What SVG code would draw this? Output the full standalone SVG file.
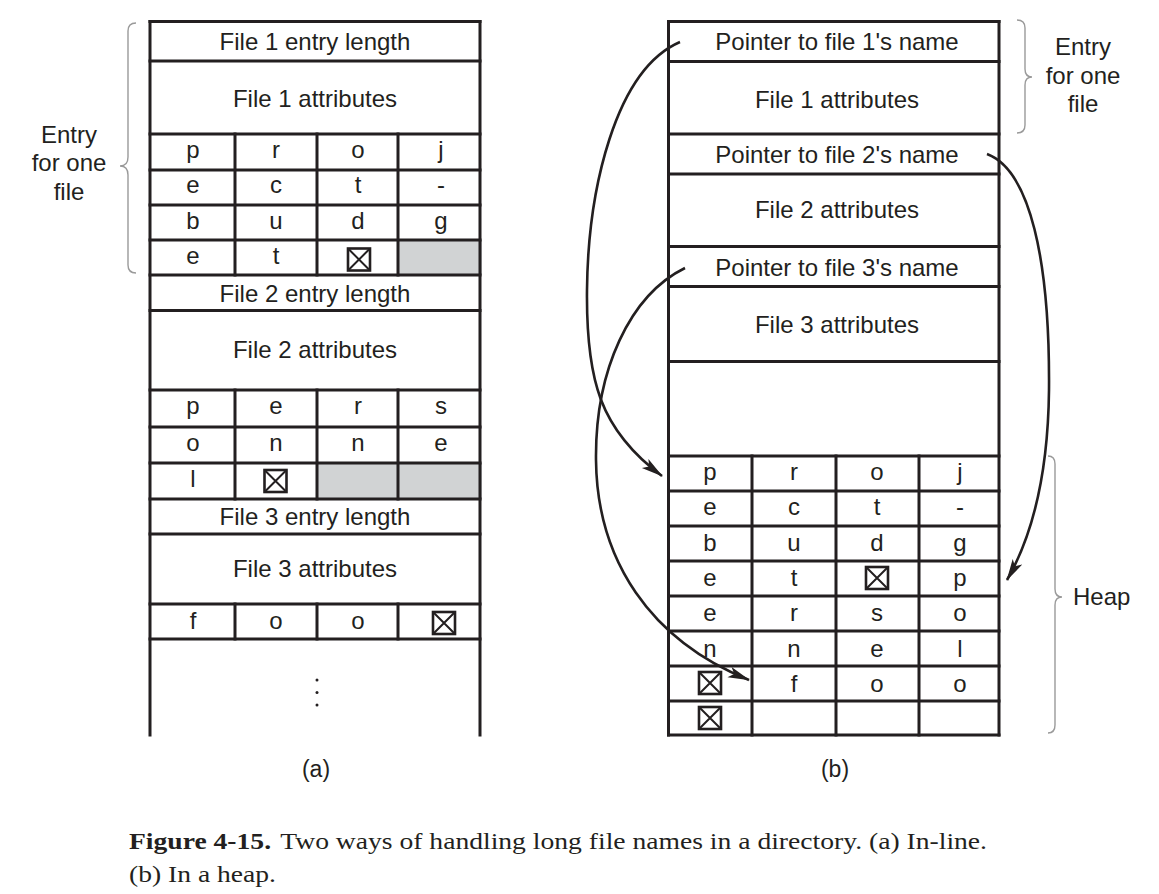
<svg xmlns="http://www.w3.org/2000/svg" width="1159" height="894" viewBox="0 0 1159 894">
<style>
.ln{stroke:#231f20;stroke-width:3;fill:none;stroke-linecap:square}
.t{font-family:"Liberation Sans",Arial,sans-serif;font-size:24px;fill:#231f20;text-anchor:middle}
.br{stroke:#9a9a9a;stroke-width:1.4;fill:none}
.gray{fill:#d1d3d4}
.arr{stroke:#231f20;stroke-width:2.6;fill:none;marker-end:url(#ah)}
.cap{font-family:"Liberation Serif","Times New Roman",serif;font-size:24px;fill:#231f20}
</style>
<defs>
<marker id="ah" markerUnits="userSpaceOnUse" markerWidth="24" markerHeight="14" refX="21" refY="6" orient="auto">
<path d="M0,0.5 L22,6 L0,11.5 L5,6 z" fill="#231f20"/>
</marker>
<g id="xbox">
<rect x="-11" y="-11" width="22" height="22" fill="#fff" stroke="#231f20" stroke-width="2.6"/>
<path d="M-10,-10 L10,10 M10,-10 L-10,10" stroke="#231f20" stroke-width="2"/>
</g>
</defs>

<!-- (a) In-line -->
<g id="table-a">
<rect class="gray" x="398" y="240" width="84" height="35"/>
<rect class="gray" x="317" y="463" width="165" height="36"/>
<path class="ln" d="M150,21.5 V735 M480,21.5 V735"/>
<path class="ln" d="M150,21.5 H480 M150,61 H480 M150,134 H480 M150,170 H480 M150,205 H480 M150,240 H480 M150,275 H480 M150,310.5 H480 M150,390 H480 M150,427 H480 M150,463 H480 M150,499 H480 M150,534 H480 M150,604 H480 M150,639 H480"/>
<path class="ln" d="M235,134 V275 M317,134 V275 M398,134 V275 M235,390 V499 M317,390 V499 M398,390 V499 M235,604 V639 M317,604 V639 M398,604 V639"/>
</g>
<g id="a-file1-len"><text class="t" x="315" y="49.5">File 1 entry length</text></g>
<g id="a-file1-attr"><text class="t" x="315" y="107">File 1 attributes</text></g>
<g id="a-file1-name">
<text class="t" x="193" y="158">p</text><text class="t" x="276" y="158">r</text><text class="t" x="358" y="158">o</text><text class="t" x="441" y="158">j</text>
<text class="t" x="193" y="193">e</text><text class="t" x="276" y="193">c</text><text class="t" x="358" y="193">t</text><text class="t" x="441" y="193">-</text>
<text class="t" x="193" y="229">b</text><text class="t" x="276" y="229">u</text><text class="t" x="358" y="229">d</text><text class="t" x="441" y="229">g</text>
<text class="t" x="193" y="264">e</text><text class="t" x="276" y="264">t</text><use href="#xbox" x="359" y="259.5"/>
</g>
<g id="a-file2-len"><text class="t" x="315" y="302">File 2 entry length</text></g>
<g id="a-file2-attr"><text class="t" x="315" y="358">File 2 attributes</text></g>
<g id="a-file2-name">
<text class="t" x="193" y="414">p</text><text class="t" x="276" y="414">e</text><text class="t" x="358" y="414">r</text><text class="t" x="441" y="414">s</text>
<text class="t" x="193" y="451">o</text><text class="t" x="276" y="451">n</text><text class="t" x="358" y="451">n</text><text class="t" x="441" y="451">e</text>
<text class="t" x="193" y="487">l</text><use href="#xbox" x="275.5" y="481"/>
</g>
<g id="a-file3-len"><text class="t" x="315" y="525">File 3 entry length</text></g>
<g id="a-file3-attr"><text class="t" x="315" y="577">File 3 attributes</text></g>
<g id="a-file3-name">
<text class="t" x="193" y="629">f</text><text class="t" x="276" y="629">o</text><text class="t" x="358" y="629">o</text><use href="#xbox" x="444" y="623"/>
</g>
<g id="a-dots" fill="#231f20">
<circle cx="317" cy="680" r="1.5"/><circle cx="317" cy="692.5" r="1.5"/><circle cx="317" cy="705" r="1.5"/>
</g>
<g id="a-brace">
<path class="br" d="M136,23 Q128,23 128,31 L128,157 Q128,166 120,166 Q128,166 128,175 L128,265 Q128,273 136,273"/>
<text class="t" x="69" y="143">Entry</text>
<text class="t" x="69" y="171">for one</text>
<text class="t" x="69" y="200">file</text>
</g>
<g id="a-label"><text class="t" x="316" y="777" style="font-size:23px">(a)</text></g>

<!-- (b) In a heap -->
<g id="table-b">
<path class="ln" d="M668.5,21.5 V735 M999,21.5 V735"/>
<path class="ln" d="M668.5,21.5 H999 M668.5,61.5 H999 M668.5,134 H999 M668.5,174 H999 M668.5,246.5 H999 M668.5,286.5 H999 M668.5,361.5 H999 M668.5,456 H999 M668.5,491 H999 M668.5,526 H999 M668.5,561 H999 M668.5,596 H999 M668.5,631 H999 M668.5,666 H999 M668.5,701 H999 M668.5,735 H999"/>
<path class="ln" d="M752,456 V735 M836,456 V735 M919,456 V735"/>
</g>
<g id="b-ptr1"><text class="t" x="837" y="49.5">Pointer to file 1's name</text></g>
<g id="b-attr1"><text class="t" x="837" y="107.5">File 1 attributes</text></g>
<g id="b-ptr2"><text class="t" x="837" y="163">Pointer to file 2's name</text></g>
<g id="b-attr2"><text class="t" x="837" y="218">File 2 attributes</text></g>
<g id="b-ptr3"><text class="t" x="837" y="276">Pointer to file 3's name</text></g>
<g id="b-attr3"><text class="t" x="837" y="333">File 3 attributes</text></g>
<g id="b-heap">
<text class="t" x="710" y="480">p</text><text class="t" x="794" y="480">r</text><text class="t" x="877" y="480">o</text><text class="t" x="960" y="480">j</text>
<text class="t" x="710" y="515">e</text><text class="t" x="794" y="515">c</text><text class="t" x="877" y="515">t</text><text class="t" x="960" y="515">-</text>
<text class="t" x="710" y="551">b</text><text class="t" x="794" y="551">u</text><text class="t" x="877" y="551">d</text><text class="t" x="960" y="551">g</text>
<text class="t" x="710" y="586">e</text><text class="t" x="794" y="586">t</text><use href="#xbox" x="877" y="578"/><text class="t" x="960" y="586">p</text>
<text class="t" x="710" y="621">e</text><text class="t" x="794" y="621">r</text><text class="t" x="877" y="621">s</text><text class="t" x="960" y="621">o</text>
<text class="t" x="710" y="657">n</text><text class="t" x="794" y="657">n</text><text class="t" x="877" y="657">e</text><text class="t" x="960" y="657">l</text>
<use href="#xbox" x="710" y="683"/><text class="t" x="794" y="692">f</text><text class="t" x="877" y="692">o</text><text class="t" x="960" y="692">o</text>
<use href="#xbox" x="710" y="718"/>
</g>
<g id="b-entry-brace">
<path class="br" d="M1017,20 Q1025,20 1025,28 L1025,69 Q1025,77 1032,77 Q1025,77 1025,85 L1025,125 Q1025,133 1017,133"/>
<text class="t" x="1083" y="55">Entry</text>
<text class="t" x="1083" y="83.5">for one</text>
<text class="t" x="1083" y="112">file</text>
</g>
<g id="b-heap-brace">
<path class="br" d="M1048,456 Q1055,456 1055,464 L1055,589 Q1055,597 1062,597 Q1055,597 1055,605 L1055,725 Q1055,733 1048,733"/>
<text class="t" x="1073" y="605" style="text-anchor:start">Heap</text>
</g>
<g id="b-label"><text class="t" x="835" y="777" style="font-size:23px">(b)</text></g>

<g id="connectors">
<path class="arr" d="M680,42 C615,70 588,190 587,290 C586,380 600,430 662,476"/>
<path class="arr" d="M987,154 C1030,170 1050,260 1049,390 C1048,480 1030,540 1007,580"/>
<path class="arr" d="M685,268 C630,295 595,370 596,460 C597,560 650,640 749,680"/>
</g>

<g id="caption">
<text class="cap" x="129" y="849" textLength="858" lengthAdjust="spacingAndGlyphs"><tspan font-weight="bold">Figure 4-15.</tspan><tspan dx="8">Two ways of handling long file names in a directory. (a) In-line.</tspan></text>
<text class="cap" x="129" y="882" textLength="147" lengthAdjust="spacingAndGlyphs">(b) In a heap.</text>
</g>
</svg>
